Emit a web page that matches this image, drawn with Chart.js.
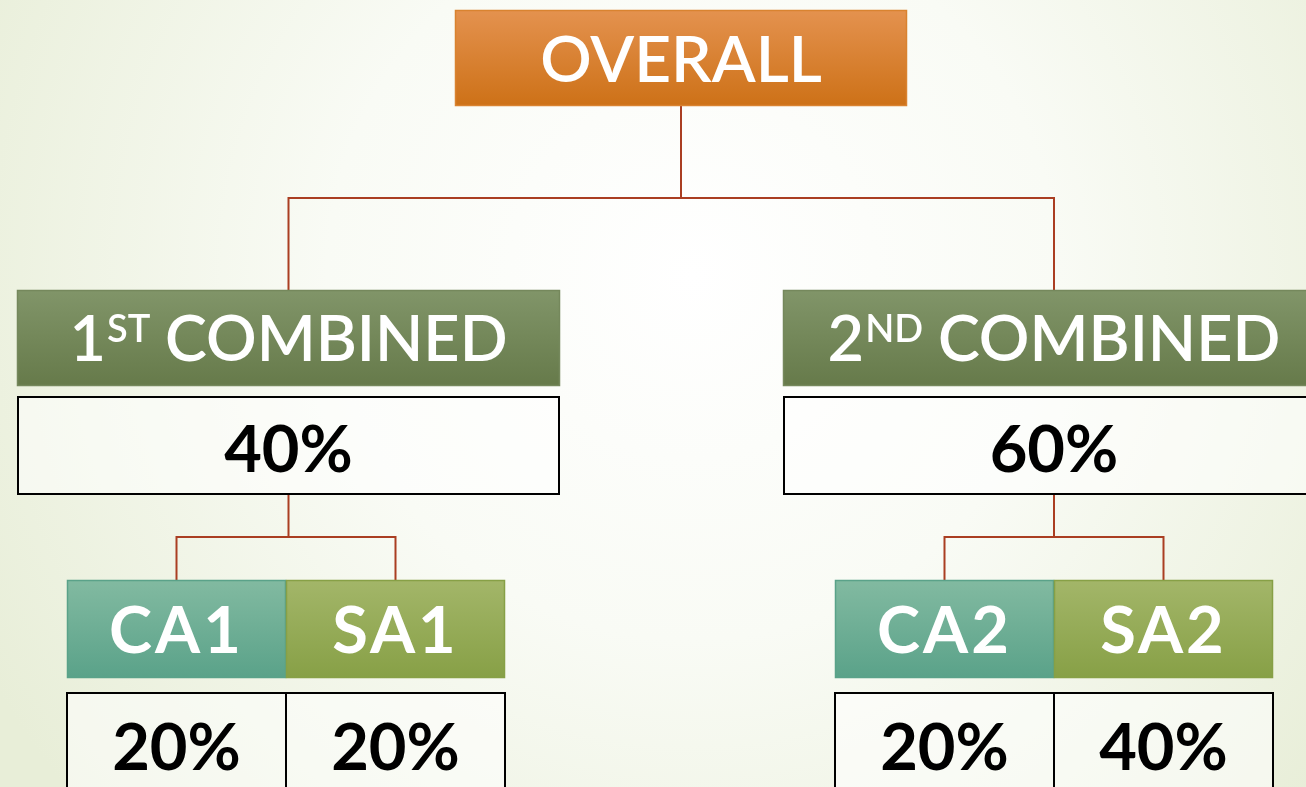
<!DOCTYPE html>
<html>
<head>
<meta charset="utf-8">
<script src="https://cdn.jsdelivr.net/npm/chart.js@4.4.0/dist/chart.umd.min.js"></script>
<style>
html,body{margin:0;padding:0;overflow:hidden;background:#f4f7ec;}
#wrap{width:1306px;height:787px;}
</style>
</head>
<body>
<div id="wrap"><canvas id="tree" width="1306" height="787"></canvas></div>
<script>
// texts and weights of the tree
var topLabel = 'OVERALL';
var combinedNums = ['1', '2'];
var combinedSups = ['ST', 'ND'];
var combinedWord = 'COMBINED';
var combinedPct = [40, 60];
var partLabels = ['CA1', 'SA1', 'CA2', 'SA2'];
var partPct = [20, 20, 20, 40];

// box layout in canvas units
var layout = {
    top: [455, 907, 10, 106],
    combined: [[17, 560], [783, 1325]],
    combinedHead: [290, 386],
    combinedVal: [397, 494],
    parts: [[67, 286], [286, 505], [835, 1054], [1054, 1273]],
    partHead: [580, 678],
    partVal: [693, 800],
    busY: 198,
    subBusY: 537
};

var lineColor = '#aa3e22';
var partColors = [['#82baa1', '#5aa289'], ['#a3b669', '#87a046']];

function vgrad(ctx, y0, y1, c0, c1){
    var g = ctx.createLinearGradient(0, y0, 0, y1);
    g.addColorStop(0, c0);
    g.addColorStop(1, c1);
    return g;
}

var treePlugin = {
    id: 'tree',
    beforeDraw: function(chart){
        var ctx = chart.ctx;
        var w = chart.width, h = chart.height;
        var g = ctx.createRadialGradient(w * 0.53, h * 0.35, 0, w * 0.53, h * 0.35, w * 0.62);
        g.addColorStop(0, '#ffffff');
        g.addColorStop(0.45, '#f9fbf5');
        g.addColorStop(1, '#e8eed8');
        ctx.save();
        ctx.fillStyle = g;
        ctx.fillRect(0, 0, w, h);
        ctx.restore();
    },
    afterDatasetsDraw: function(chart){
        var ctx = chart.ctx;
        var sx = chart.scales.x, sy = chart.scales.y;
        var X = function(v){ return sx.getPixelForValue(v); };
        var Y = function(v){ return sy.getPixelForValue(v); };

        function line(pts){
            ctx.beginPath();
            ctx.moveTo(X(pts[0][0]), Y(pts[0][1]));
            for(var i = 1; i < pts.length; i++){
                ctx.lineTo(X(pts[i][0]), Y(pts[i][1]));
            }
            ctx.stroke();
        }
        function headBox(x0, x1, y0, y1, c0, c1, edge){
            ctx.fillStyle = vgrad(ctx, Y(y0), Y(y1), c0, c1);
            ctx.fillRect(X(x0), Y(y0), X(x1) - X(x0), Y(y1) - Y(y0));
            ctx.strokeStyle = edge;
            ctx.lineWidth = 1.5;
            ctx.strokeRect(X(x0) + 0.5, Y(y0) + 0.5, X(x1) - X(x0) - 1, Y(y1) - Y(y0) - 1);
        }
        function valBox(x0, x1, y0, y1){
            ctx.fillStyle = 'rgba(255,255,255,0.55)';
            ctx.fillRect(X(x0), Y(y0), X(x1) - X(x0), Y(y1) - Y(y0));
            ctx.strokeStyle = '#000000';
            ctx.lineWidth = 2;
            ctx.strokeRect(X(x0), Y(y0), X(x1) - X(x0), Y(y1) - Y(y0));
        }
        function text(str, cx, cy, font, color, cap, spacing){
            ctx.font = font;
            ctx.letterSpacing = spacing || '0px';
            ctx.fillStyle = color;
            ctx.textAlign = 'center';
            ctx.textBaseline = 'alphabetic';
            ctx.fillText(str, X(cx), Y(cy) + cap / 2);
            ctx.letterSpacing = '0px';
        }

        ctx.save();
        // connectors
        ctx.strokeStyle = lineColor;
        ctx.lineWidth = 2;
        var t = layout.top;
        var topC = (t[0] + t[1]) / 2;
        var cc = layout.combined.map(function(b){ return (b[0] + b[1]) / 2; });
        line([[topC, t[3]], [topC, layout.busY]]);
        line([[cc[0], layout.combinedHead[0]], [cc[0], layout.busY], [cc[1], layout.busY], [cc[1], layout.combinedHead[0]]]);
        for(var k = 0; k < 2; k++){
            var pa = layout.parts[k * 2], pb = layout.parts[k * 2 + 1];
            var ca = (pa[0] + pa[1]) / 2, cb = (pb[0] + pb[1]) / 2;
            line([[cc[k], layout.combinedVal[1]], [cc[k], layout.subBusY]]);
            line([[ca, layout.partHead[0]], [ca, layout.subBusY], [cb, layout.subBusY], [cb, layout.partHead[0]]]);
        }

        // overall
        headBox(t[0], t[1], t[2], t[3], '#e4924f', '#cd7117', '#d98330');
        text(topLabel, topC, (t[2] + t[3]) / 2, '600 64px Lato', '#ffffff', 47);

        // combined heads and values
        for(var i = 0; i < 2; i++){
            var b = layout.combined[i];
            var hy = layout.combinedHead, vy = layout.combinedVal;
            headBox(b[0], b[1], hy[0], hy[1], '#819569', '#667a4a', '#75885c');
            valBox(b[0] + 1, b[1] - 1, vy[0], vy[1]);

            // label with superscript
            var mainFont = '600 63px Lato', supFont = '600 38px Lato';
            ctx.font = mainFont;
            var wNum = ctx.measureText(combinedNums[i]).width;
            var wWord = ctx.measureText(' ' + combinedWord).width;
            ctx.font = supFont;
            var wSup = ctx.measureText(combinedSups[i]).width;
            var total = wNum + wSup + wWord;
            var left = X(cc[i]) - total / 2;
            var base = Y((hy[0] + hy[1]) / 2) + 23;
            ctx.fillStyle = '#ffffff';
            ctx.textAlign = 'left';
            ctx.textBaseline = 'alphabetic';
            ctx.font = mainFont;
            ctx.fillText(combinedNums[i], left, base);
            ctx.font = supFont;
            ctx.fillText(combinedSups[i], left + wNum + 1, base - 19);
            ctx.font = mainFont;
            ctx.fillText(' ' + combinedWord, left + wNum + wSup, base);

            text(combinedPct[i] + '%', cc[i], (vy[0] + vy[1]) / 2 + 2, '700 65px Lato', '#000000', 48);
        }

        // parts
        for(var j = 0; j < partLabels.length; j++){
            var p = layout.parts[j];
            var col = partColors[j % 2];
            var ph = layout.partHead, pv = layout.partVal;
            headBox(p[0], p[1], ph[0], ph[1], col[0], col[1], col[1]);
            valBox(p[0], p[1], pv[0], pv[1]);
            text(partLabels[j], (p[0] + p[1]) / 2, (ph[0] + ph[1]) / 2, '700 65px Lato', '#ffffff', 47, '3px');
            text(partPct[j] + '%', (p[0] + p[1]) / 2, 746, '700 65px Lato', '#000000', 48);
        }
        ctx.restore();
    }
};

var chart = new Chart(document.getElementById('tree'), {
    type: 'scatter',
    data: { datasets: [] },
    options: {
        responsive: false,
        animation: false,
        layout: { padding: 0 },
        plugins: { legend: { display: false }, tooltip: { enabled: false } },
        scales: {
            x: { type: 'linear', min: 0, max: 1306, display: false },
            y: { type: 'linear', min: 0, max: 787, reverse: true, display: false }
        }
    },
    plugins: [treePlugin]
});
</script>
</body>
</html>
